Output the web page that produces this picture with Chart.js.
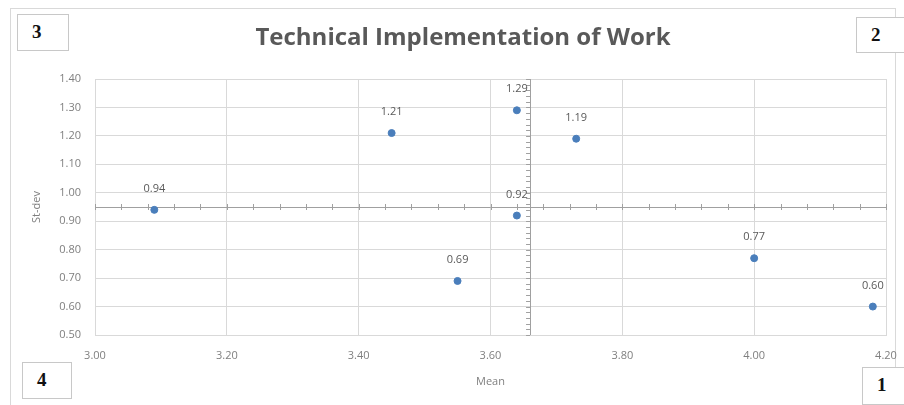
<!DOCTYPE html>
<html>
<head>
<meta charset="utf-8">
<script src="https://cdn.jsdelivr.net/npm/chart.js@4.4.0/dist/chart.umd.min.js"></script>
<style>
  body { margin: 0; background: #fff; }
  #wrap { position: relative; width: 904px; height: 405px; overflow: hidden; }
  #frame { position: absolute; left: 10px; top: 8px; width: 886px; height: 400px; border: 1px solid #d9d9d9; box-sizing: border-box; }
  #grafico { position: absolute; left: 0; top: 0; }
  .quad { position: absolute; border: 1px solid #c8c8c8; background: #fff; font-family: "Liberation Serif", serif; font-weight: bold; font-size: 19px; color: #111; box-sizing: border-box; padding-left: 14px; line-height: 34px; }
</style>
</head>
<body>
<div id="wrap">
  <div id="frame"></div>
  <canvas id="grafico" width="904" height="405"></canvas>
  <div class="quad" style="left:17px;top:14px;width:52px;height:37px;">3</div>
  <div class="quad" style="left:856px;top:17px;width:52px;height:36px;">2</div>
  <div class="quad" style="left:22px;top:362px;width:50px;height:37px;">4</div>
  <div class="quad" style="left:862px;top:367px;width:50px;height:38px;">1</div>
</div>
<script>
// dados
const media = [3.09, 3.45, 3.64, 3.73, 3.64, 3.55, 4.00, 4.18];
const desvio = [0.94, 1.21, 1.29, 1.19, 0.92, 0.69, 0.77, 0.60];
const tituloGrafico = "Technical Implementation of Work";
const tituloX = "Mean";
const tituloY = "St-dev";
// cruzamento dos eixos (media das medias / media dos desvios)
const cruzaX = 3.66;
const cruzaY = 0.95;

const pontos = media.map((m, i) => ({ x: m, y: desvio[i] }));

// titulo desenhado no topo
const pluginTitulo = {
  id: "titulo",
  afterDraw(chart) {
    const ctx = chart.ctx;
    ctx.save();
    ctx.font = "bold 24px 'Open Sans'";
    ctx.fillStyle = "#595959";
    ctx.textAlign = "center";
    ctx.textBaseline = "middle";
    ctx.fillText(tituloGrafico, 463, 38);
    ctx.restore();
  },
};

// linhas de cruzamento com marcas pequenas
const pluginCruz = {
  id: "cruz",
  beforeDatasetsDraw(chart) {
    const ctx = chart.ctx;
    const sx = chart.scales.x;
    const sy = chart.scales.y;
    const area = chart.chartArea;
    const px = sx.getPixelForValue(cruzaX);
    const py = sy.getPixelForValue(cruzaY);
    ctx.save();
    ctx.strokeStyle = "#a0a0a0";
    ctx.lineWidth = 1;
    ctx.beginPath();
    ctx.moveTo(area.left, Math.round(py) + 0.5);
    ctx.lineTo(area.right, Math.round(py) + 0.5);
    ctx.moveTo(Math.round(px) + 0.5, area.top);
    ctx.lineTo(Math.round(px) + 0.5, area.bottom);
    for (let v = sx.min; v <= sx.max + 1e-9; v += 0.04) {
      const x = Math.round(sx.getPixelForValue(v)) + 0.5;
      ctx.moveTo(x, py - 3);
      ctx.lineTo(x, py + 3);
    }
    for (let v = sy.min; v <= sy.max + 1e-9; v += 0.02) {
      const y = Math.round(sy.getPixelForValue(v)) + 0.5;
      ctx.moveTo(px - 4, y);
      ctx.lineTo(px, y);
    }
    ctx.stroke();
    ctx.restore();
  },
  afterDatasetsDraw(chart) {
    // rotulos dos pontos
    const ctx = chart.ctx;
    const meta = chart.getDatasetMeta(0);
    ctx.save();
    ctx.font = "11px 'Open Sans'";
    ctx.fillStyle = "#595959";
    ctx.textAlign = "center";
    ctx.textBaseline = "middle";
    meta.data.forEach((p, i) => {
      ctx.fillText(desvio[i].toFixed(2), p.x, p.y - 21);
    });
    ctx.restore();
  },
};

const ctx = document.getElementById("grafico").getContext("2d");
const myChart = new Chart(ctx, {
  type: "scatter",
  data: {
    datasets: [
      {
        label: "Technical Implementation of Work",
        data: pontos,
        backgroundColor: "#4a7ebb",
        borderColor: "#4a7ebb",
        pointRadius: 3.5,
        pointHoverRadius: 3.5,
      },
    ],
  },
  options: {
    responsive: false,
    animation: false,
    layout: {
      padding: { left: 0, top: 79, right: 18, bottom: 0 },
    },
    plugins: {
      legend: { display: false },
      tooltip: { enabled: false },
    },
    scales: {
      x: {
        type: "linear",
        min: 3.0,
        max: 4.2,
        afterFit: (s) => { s.height = 70; s.paddingLeft = 0; s.paddingRight = 0; },
        ticks: {
          stepSize: 0.2,
          padding: 14,
          color: "#7f7f7f",
          font: { family: "Open Sans", size: 11 },
          callback: (v) => Number(v).toFixed(2),
        },
        grid: { color: "#d9d9d9", drawTicks: false },
        border: { color: "#d9d9d9" },
        title: {
          display: true,
          text: tituloX,
          color: "#7f7f7f",
          font: { family: "Open Sans", size: 11 },
          padding: { top: 4, bottom: 17 },
        },
      },
      y: {
        min: 0.5,
        max: 1.4,
        afterFit: (s) => { s.width = 95; },
        ticks: {
          stepSize: 0.1,
          padding: 14,
          color: "#7f7f7f",
          font: { family: "Open Sans", size: 11 },
          callback: (v) => Number(v).toFixed(2),
        },
        grid: { color: "#d9d9d9", drawTicks: false },
        border: { color: "#d9d9d9" },
        title: {
          display: true,
          text: tituloY,
          color: "#7f7f7f",
          font: { family: "Open Sans", size: 11 },
          padding: { top: 30, bottom: 0 },
        },
      },
    },
  },
  plugins: [pluginCruz, pluginTitulo],
});
</script>
</body>
</html>
